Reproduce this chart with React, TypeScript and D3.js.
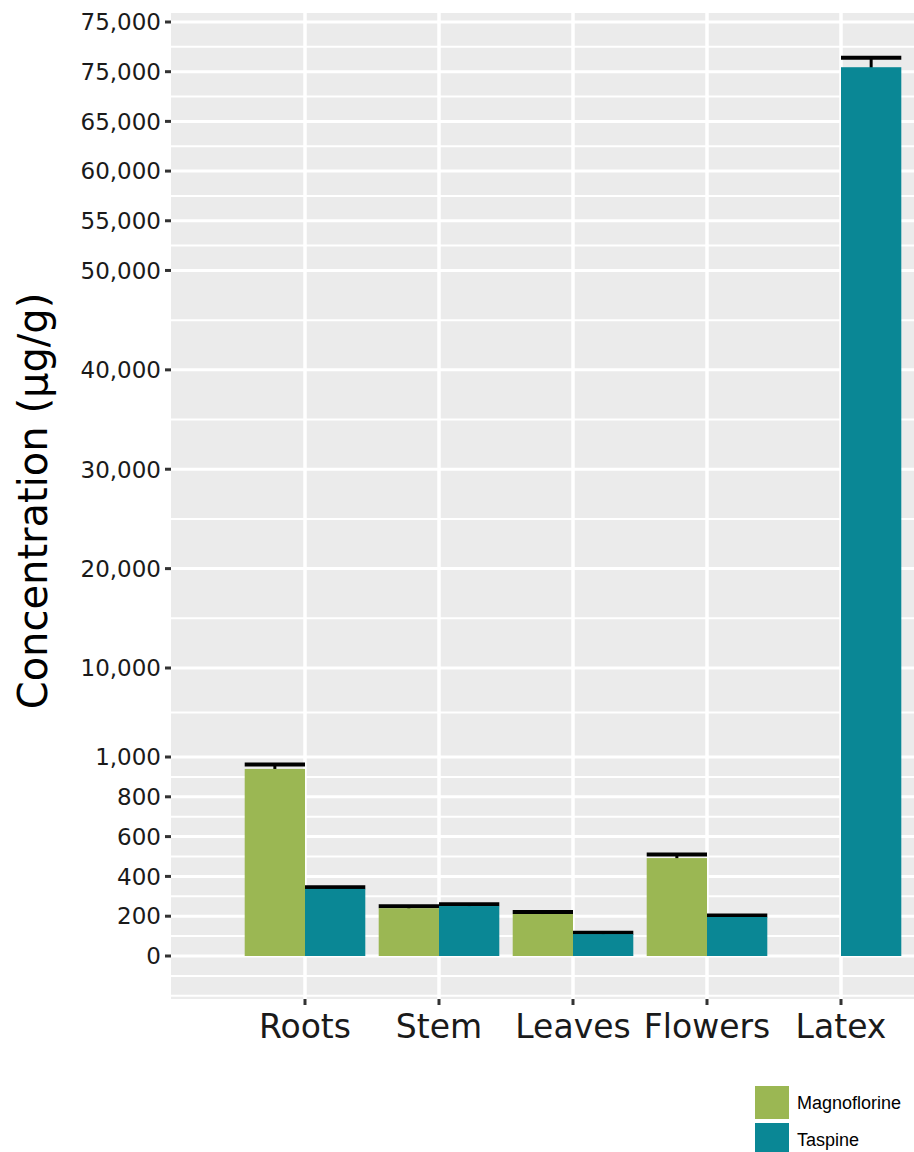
import React, { Component } from 'react';
import * as d3 from 'd3';

const categories = ['Roots', 'Stem', 'Leaves', 'Flowers', 'Latex'];
const magnoflorine = [940, 240, 211, 492, 0];
const magnoflorineSe = [22, 10, 10, 18, 0];
const taspine = [337, 251, 110, 196, 70450];
const taspineSe = [8, 9, 7, 8, 950];

const tickValues = [0, 200, 400, 600, 800, 1000, 10000, 20000, 30000, 40000, 50000, 55000, 60000, 65000, 70000, 75000];
const tickLabels = ['0', '200', '400', '600', '800', '1,000', '10,000', '20,000', '30,000', '40,000', '50,000', '55,000', '60,000', '65,000', '75,000', '75,000'];
const minorValues = [-200, -100, 100, 300, 500, 700, 900, 5500, 15000, 25000, 35000, 45000, 52500, 57500, 62500, 67500, 72500];

const seriesNames = ['Magnoflorine', 'Taspine'];
const seriesColors = ['#9bb753', '#0a8795'];

export default class App extends Component {
  node: SVGSVGElement | null = null;

  componentDidMount() {
    this.createChart();
  }

  componentDidUpdate() {
    this.createChart();
  }

  createChart() {
    const width = 914;
    const height = 1152;
    const panel = { left: 171, right: 914, top: 13, bottom: 999 };

    const svg = d3.select(this.node).attr('width', width).attr('height', height);
    svg.selectAll('*').remove();

    // broken axis: 0-1000 stretched, then 10,000 steps
    const y = d3.scaleLinear()
      .domain([-216, 0, 1000, 10000, 75000, 75900])
      .range([999, 956, 757, 668, 22, 13]);

    const x = d3.scaleBand().domain(categories).range([238, 908]).padding(0);
    const bw = x.bandwidth();
    const barW = (bw * 0.9) / 2;

    svg.append('rect')
      .attr('x', panel.left)
      .attr('y', panel.top)
      .attr('width', panel.right - panel.left)
      .attr('height', panel.bottom - panel.top)
      .attr('fill', '#ebebeb');

    const grid = svg.append('g');
    grid.selectAll('line.minor')
      .data(minorValues)
      .enter()
      .append('line')
      .attr('x1', panel.left)
      .attr('x2', panel.right)
      .attr('y1', d => y(d))
      .attr('y2', d => y(d))
      .attr('stroke', '#fff')
      .attr('stroke-width', 2);

    grid.selectAll('line.major')
      .data(tickValues)
      .enter()
      .append('line')
      .attr('x1', panel.left)
      .attr('x2', panel.right)
      .attr('y1', d => y(d))
      .attr('y2', d => y(d))
      .attr('stroke', '#fff')
      .attr('stroke-width', 3);

    grid.selectAll('line.vert')
      .data(categories)
      .enter()
      .append('line')
      .attr('x1', d => x(d)! + bw / 2)
      .attr('x2', d => x(d)! + bw / 2)
      .attr('y1', panel.top)
      .attr('y2', panel.bottom)
      .attr('stroke', '#fff')
      .attr('stroke-width', 3.5);

    const rows: { cat: string; s: number; v: number; se: number }[] = [];
    categories.forEach((c, i) => {
      rows.push({ cat: c, s: 0, v: magnoflorine[i], se: magnoflorineSe[i] });
      rows.push({ cat: c, s: 1, v: taspine[i], se: taspineSe[i] });
    });
    const shown = rows.filter(d => d.v > 0);
    const barX = (d: { cat: string; s: number }) => x(d.cat)! + bw / 2 - barW + d.s * barW;

    // error bars go under the bars, so only the upper half shows
    const err = svg.append('g');
    err.selectAll('line.v')
      .data(shown)
      .enter()
      .append('line')
      .attr('x1', d => barX(d) + barW / 2)
      .attr('x2', d => barX(d) + barW / 2)
      .attr('y1', d => y(d.v - d.se))
      .attr('y2', d => y(d.v + d.se))
      .attr('stroke', '#000')
      .attr('stroke-width', 3);
    err.selectAll('line.cap')
      .data(shown)
      .enter()
      .append('line')
      .attr('x1', d => barX(d))
      .attr('x2', d => barX(d) + barW)
      .attr('y1', d => y(d.v + d.se))
      .attr('y2', d => y(d.v + d.se))
      .attr('stroke', '#000')
      .attr('stroke-width', 4);

    svg.append('g')
      .selectAll('rect')
      .data(shown)
      .enter()
      .append('rect')
      .attr('x', d => barX(d))
      .attr('y', d => y(d.v))
      .attr('width', barW)
      .attr('height', d => y(0) - y(d.v))
      .attr('fill', d => seriesColors[d.s]);

    // y axis
    const yAxis = svg.append('g');
    yAxis.selectAll('line')
      .data(tickValues)
      .enter()
      .append('line')
      .attr('x1', panel.left - 6)
      .attr('x2', panel.left)
      .attr('y1', d => y(d))
      .attr('y2', d => y(d))
      .attr('stroke', '#333')
      .attr('stroke-width', 3);
    yAxis.selectAll('text')
      .data(tickValues)
      .enter()
      .append('text')
      .attr('x', panel.left - 10)
      .attr('y', d => y(d))
      .attr('dy', '0.36em')
      .attr('text-anchor', 'end')
      .attr('font-family', 'DejaVu Sans')
      .attr('font-size', 23)
      .attr('fill', '#1a1a1a')
      .text((d, i) => tickLabels[i]);

    // x axis
    const xAxis = svg.append('g');
    xAxis.selectAll('line')
      .data(categories)
      .enter()
      .append('line')
      .attr('x1', d => x(d)! + bw / 2)
      .attr('x2', d => x(d)! + bw / 2)
      .attr('y1', panel.bottom)
      .attr('y2', panel.bottom + 6)
      .attr('stroke', '#333')
      .attr('stroke-width', 3);
    xAxis.selectAll('text')
      .data(categories)
      .enter()
      .append('text')
      .attr('x', d => x(d)! + bw / 2)
      .attr('y', 1038)
      .attr('text-anchor', 'middle')
      .attr('font-family', 'DejaVu Sans')
      .attr('font-size', 33)
      .attr('fill', '#1a1a1a')
      .text(d => d);

    svg.append('text')
      .attr('transform', 'translate(47,501) rotate(-90)')
      .attr('text-anchor', 'middle')
      .attr('font-family', 'DejaVu Sans')
      .attr('font-size', 40)
      .attr('fill', '#000')
      .text('Concentration (μg/g)');

    // legend
    const legend = svg.append('g').attr('transform', 'translate(755,1086)');
    seriesNames.forEach((name, i) => {
      legend.append('rect')
        .attr('x', 0)
        .attr('y', i * 37)
        .attr('width', 34)
        .attr('height', 33)
        .attr('fill', seriesColors[i]);
      legend.append('text')
        .attr('x', 42)
        .attr('y', i * 37 + 23)
        .attr('font-family', 'Liberation Sans')
        .attr('font-size', 18)
        .attr('fill', '#000')
        .text(name);
    });
  }

  render() {
    return (
      <svg
        style={{ position: 'absolute', left: 0, top: 0 }}
        ref={node => {
          this.node = node;
        }}
      />
    );
  }
}
